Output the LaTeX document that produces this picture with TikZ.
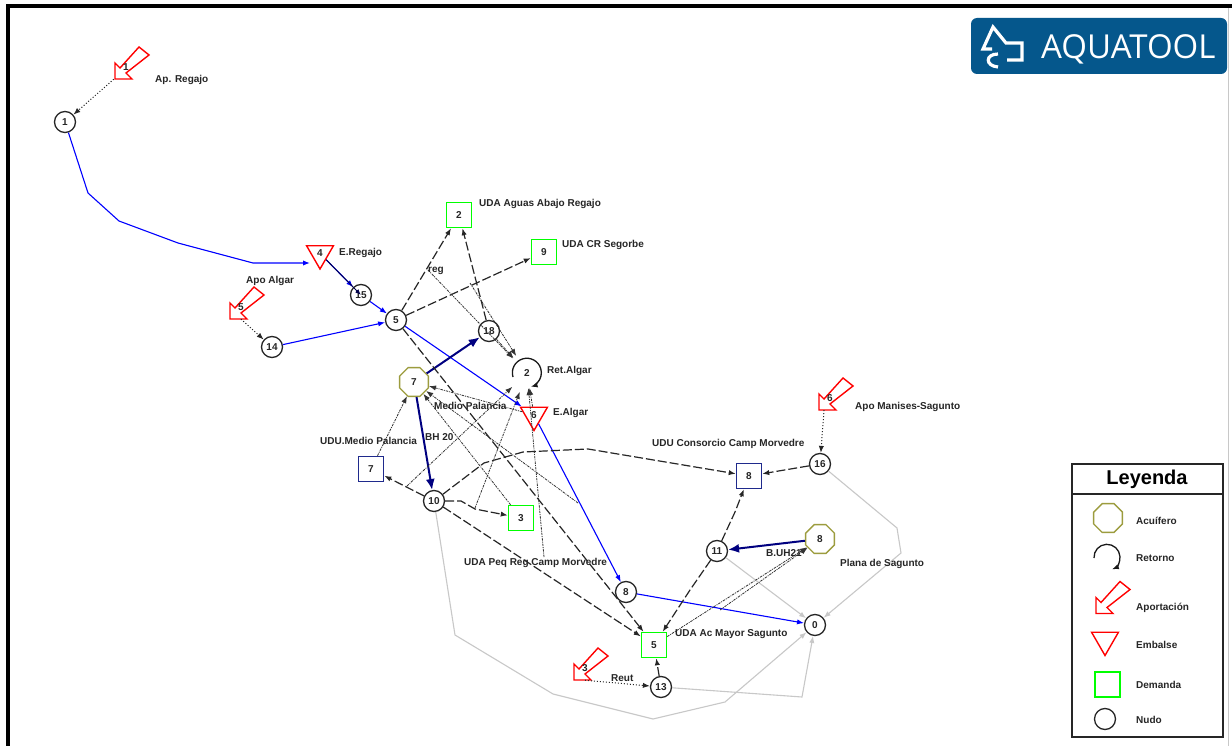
\documentclass[tikz,border=0pt]{standalone}
\usepackage{fontspec}
\setmainfont{Liberation Sans}
\newfontfamily\logofont{Open Sans}
\usetikzlibrary{shapes.geometric,arrows.meta}
\definecolor{aquablue}{HTML}{05578C}
\definecolor{acuifero}{HTML}{9C9C3E}
\definecolor{udublue}{HTML}{1F2A8C}
\definecolor{tramo}{HTML}{C8C8C8}
\tikzset{
  every node/.style={font=\fontsize{10}{12}\selectfont\bfseries, text=black!85},
  nudo/.style={circle, draw=black!85, fill=white, line width=1.3pt, minimum size=21pt, inner sep=0pt},
  demanda/.style={rectangle, draw=green, line width=1.5pt, minimum size=25pt, inner sep=0pt},
  udu/.style={rectangle, draw=udublue, line width=1.5pt, minimum size=25pt, inner sep=0pt},
  embalse/.style={regular polygon, regular polygon sides=3, shape border rotate=180, draw=red, line width=1.4pt, minimum size=31pt, inner sep=0pt},
  acuif/.style={regular polygon, regular polygon sides=8, draw=acuifero, line width=1.4pt, minimum size=31pt, inner sep=0pt},
  retnode/.style={circle, minimum size=40pt, inner sep=0pt},
  retline/.style={-{Latex[length=7pt]}, black!90, line width=1.3pt},
  aportnode/.style={rectangle, minimum size=24pt, inner sep=0pt},
  etiq/.style={anchor=west, inner sep=0pt, yshift=-1pt},
  rio/.style={-{Latex[length=7pt]}, blue, line width=1.1pt},
  bomba/.style={-{Latex[length=11pt,width=9pt]}, blue!50!black, line width=2pt},
  conduc/.style={-{Latex[length=7pt]}, black!85, line width=1.2pt, dash pattern=on 9pt off 3pt},
  gris/.style={-{Latex[length=7pt]}, tramo, line width=1.1pt},
  punteada/.style={-{Latex[length=7pt]}, black!85, line width=1pt, dotted},
  dev/.style={-{Latex[length=7pt]}, black!80, line width=0.8pt, dash pattern=on 2.5pt off 1pt on 1pt off 1pt},
}
\newcommand{\aportacion}[3]{
  \draw[red, line width=1.4pt, fill=white, shift={(#2)}] (-11,-4) -- (-11,12) -- (6,12) -- (0,6) -- (23,-12) -- (13,-20) -- (-6,1) -- cycle;
  \node[aportnode] (#1) at (#2) {#3};
}
\begin{document}
\begin{tikzpicture}[x=1pt, y=-1pt]
\useasboundingbox (0,0) rectangle (1232,746);
\fill[white] (0,0) rectangle (1232,746);
% marco
\draw[tramo, line width=1pt] (1228,8) -- (1228,746);
\draw[black, line width=4pt] (8,746) -- (8,6) -- (1232,6);
% logo
\fill[aquablue, rounded corners=6pt] (971,18) rectangle (1227,74);
\draw[white, line width=3.2pt] (992,49) -- (983,49) -- (993,27) -- (1006,43) -- (1022,43) -- (1022,60) -- (1007,60);
\draw[white, line width=3.2pt] (998,54) .. controls (985,54) and (985,66) .. (998,67);
\node[font=\logofont\fontsize{33}{36}\selectfont, text=white, anchor=west, inner sep=0pt] (logo) at (1041,49) {AQUATOOL};

% nodos
\node[nudo] (n1) at (65,122) {1};
\node[nudo] (n15) at (361,295) {15};
\node[nudo] (n5) at (396,320) {5};
\node[nudo] (n14) at (272,347) {14};
\node[nudo] (n18) at (489,331) {18};
\node[nudo] (n10) at (434,501) {10};
\node[nudo] (n8) at (626,592) {8};
\node[nudo] (n11) at (717,551) {11};
\node[nudo] (n16) at (820,464) {16};
\node[nudo] (n0) at (815,625) {0};
\node[nudo] (n13) at (661,687) {13};
% demandas
\node[demanda] (d2) at (459,215) {2};
\node[demanda] (d9) at (544,252) {9};
\node[demanda] (d3) at (521,518) {3};
\node[demanda] (d5) at (654,645) {5};
\node[udu] (u7) at (371,469) {7};
\node[udu] (u8) at (749,476) {8};
% embalses y acuiferos
\node[embalse] (e4) at (320,253.5) {4};
\node[embalse] (e6) at (534,415) {6};
\node[acuif] (a7) at (414,382) {7};
\node[acuif] (a8) at (820,539) {8};
% retorno
\node[retnode] (r2) at (527,373) {2};
\draw[retline] (513,377) arc[start angle=197, end angle=-75, radius=14.5pt];
% aportaciones
\aportacion{ap1}{126,67}{1}
\aportacion{ap5}{241,307}{5}
\aportacion{ap3}{585,668}{3}
\aportacion{ap6}{830,398}{6}

% rios
\draw[rio] (n1) -- (88,193) -- (119,221) -- (178,243) -- (253,263) -- (310,263);
\draw[rio] (e4) -- (n15);
\draw[-{Latex[length=6pt]}, blue!30!black, line width=0.9pt] (e4) -- (n15.center);
\draw[rio] (n15) -- (n5);
\draw[rio] (n14) -- (n5);
\draw[rio] (n5) -- (e6);
\draw[rio] (e6) -- (n8);
\draw[rio] (n8) -- (n0);
% bombeos
\draw[bomba] (a7) -- (n18);
\draw[bomba] (a7) -- (n10);
\draw[bomba] (a8) -- (n11);
% conducciones
\draw[conduc] (n10) -- (u7);
\draw[conduc] (n10) -- (461,501) -- (475,509) -- (d3);
\draw[conduc] (n10) -- (d5);
\draw[conduc] (n10) -- (484,463) -- (523,452) -- (588,449) -- (u8);
\draw[conduc] (n5) -- (d2);
\draw[conduc] (n18) -- (d2);
\draw[conduc] (n5) -- (d9);
\draw[conduc] (n5) -- (d5);
\draw[conduc] (n11) -- (735,512) -- (u8);
\draw[conduc] (n11) -- (690,590) -- (d5);
\draw[conduc] (n16) -- (u8);
\draw[conduc] (n13) -- (d5);
% tramos grises
\draw[gris] (n16) -- (897,528) -- (901,553) -- (n0);
\draw[gris] (n11) -- (n0);
\draw[gris] (n13) -- (802,697) -- (n0);
\draw[gris] (n10) -- (455,635) -- (553,694) -- (653,719) -- (725,702) -- (n0);
% entradas
\draw[punteada] (ap1.south west) -- (n1);
\draw[punteada] (ap5.south) -- (n14);
\draw[punteada] (ap3.south) -- (n13);
\draw[punteada] ([xshift=-6pt]ap6.south) -- (n16);
% retornos y filtraciones
\coordinate (c1) at (470,283);
\coordinate (c2) at (407,486);
\coordinate (c3) at (475,508);
\coordinate (c4) at (544,557);
\coordinate (c5) at (578,503);
\coordinate (c6) at (720,610);
\coordinate (c7) at (428,270);
\draw[dev] (c7) -- (r2);
\draw[dev] (c1) -- (r2);
\draw[dev] (n18) -- (r2);
\draw[dev] (c2) -- (r2);
\draw[dev] (c3) -- (r2);
\draw[dev, shorten >=-5pt] (c4) -- (r2);
\draw[dev, shorten >=-5pt] (e6) -- (r2);
\draw[dev] (e6) -- (a7);
\draw[dev] (d3) -- (a7);
\draw[dev] (c5) -- (a7);
\draw[dev] (u7) -- (a7);
\draw[dev] (d5) -- (a8);
\draw[dev] (c6) -- (a8);

% etiquetas
\node[etiq] (t1) at (155,79) {Ap. Regajo};
\node[etiq] (t2) at (339,252) {E.Regajo};
\node[etiq] (t3) at (246,280) {Apo Algar};
\node[etiq] (t4) at (479,203) {UDA Aguas Abajo Regajo};
\node[etiq] (t5) at (562,244) {UDA CR Segorbe};
\node[etiq] (t6) at (428,270) {reg};
\node[etiq] (t7) at (547,370) {Ret.Algar};
\node[etiq] (t8) at (434,405) {Medio Palancia};
\node[etiq] (t9) at (553,412) {E.Algar};
\node[etiq] (t10) at (425,436) {BH 20};
\node[etiq] (t11) at (320,440) {UDU.Medio Palancia};
\node[etiq] (t12) at (652,443) {UDU Consorcio Camp Morvedre};
\node[etiq] (t13) at (855,406) {Apo Manises-Sagunto};
\node[etiq] (t14) at (464,562) {UDA Peq Reg Camp Morvedre};
\node[etiq] (t15) at (766,552) {B.UH21};
\node[etiq] (t16) at (840,563) {Plana de Sagunto};
\node[etiq] (t17) at (675,633) {UDA Ac Mayor Sagunto};
\node[etiq] (t18) at (611,677) {Reut};

% leyenda
\draw[black!85, line width=1.6pt] (1072,464) rectangle (1223,737);
\draw[black!85, line width=1.6pt] (1072,494) -- (1223,494);
\node[font=\fontsize{20}{22}\selectfont\bfseries, text=black] (leyenda) at (1147,479) {Leyenda};
\node[acuif] (lacuif) at (1108,518) {};
\draw[retline] (1094,558) arc[start angle=183, end angle=-68, radius=13pt];
\aportacion{lapor}{1107,601.5}{}
\node[embalse] (lemb) at (1105,640) {};
\node[demanda] (ldem) at (1107.5,684.5) {};
\node[nudo] (lnud) at (1105,719) {};
\node[etiq] (l1) at (1136,520) {Acuífero};
\node[etiq] (l2) at (1136,557) {Retorno};
\node[etiq] (l3) at (1136,607) {Aportación};
\node[etiq] (l4) at (1136,644) {Embalse};
\node[etiq] (l5) at (1136,684) {Demanda};
\node[etiq] (l6) at (1136,719) {Nudo};
\end{tikzpicture}
\end{document}
